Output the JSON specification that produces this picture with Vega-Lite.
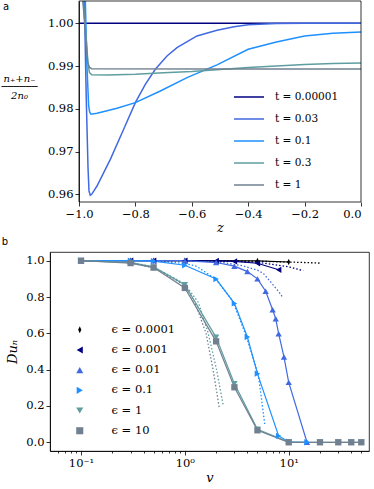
{
  "$schema": "https://vega.github.io/schema/vega-lite/v6.json",
  "padding": 0,
  "background": "white",
  "config": {
    "font": "DejaVu Serif",
    "view": {"stroke": "#000", "strokeWidth": 0.8},
    "axis": {"labelFont": "DejaVu Serif", "labelFontSize": 11.5, "labelColor": "#000", "tickColor": "#000", "domainColor": "#000", "grid": false, "tickSize": 4, "tickWidth": 0.8, "domainWidth": 0.8, "titleFont": "DejaVu Serif", "titleFontWeight": "normal", "titleColor": "#000", "labelPadding": 2},
    "legend": {"labelFont": "DejaVu Serif", "labelColor": "#000", "padding": 0},
    "title": {"font": "DejaVu Sans", "fontSize": 10, "fontWeight": "normal", "color": "#000"}
  },
  "datasets": {
    "a": [
      {"t": "t = 0.00001", "z": -1.0, "n": 1.0},
      {"t": "t = 0.00001", "z": -0.5, "n": 1.0},
      {"t": "t = 0.00001", "z": 0.0, "n": 1.0},
      {"t": "t = 0.03", "z": -1.0, "n": 1.08},
      {"t": "t = 0.03", "z": -0.981, "n": 1.0052},
      {"t": "t = 0.03", "z": -0.974, "n": 0.9818},
      {"t": "t = 0.03", "z": -0.968, "n": 0.9662},
      {"t": "t = 0.03", "z": -0.9645, "n": 0.9608},
      {"t": "t = 0.03", "z": -0.96, "n": 0.95976},
      {"t": "t = 0.03", "z": -0.955, "n": 0.96},
      {"t": "t = 0.03", "z": -0.9362, "n": 0.96194},
      {"t": "t = 0.03", "z": -0.8889, "n": 0.96818},
      {"t": "t = 0.03", "z": -0.8416, "n": 0.9752},
      {"t": "t = 0.03", "z": -0.8002, "n": 0.98143},
      {"t": "t = 0.03", "z": -0.7648, "n": 0.98572},
      {"t": "t = 0.03", "z": -0.7293, "n": 0.98923},
      {"t": "t = 0.03", "z": -0.6879, "n": 0.99235},
      {"t": "t = 0.03", "z": -0.6525, "n": 0.9943},
      {"t": "t = 0.03", "z": -0.5816, "n": 0.99703},
      {"t": "t = 0.03", "z": -0.5106, "n": 0.99836},
      {"t": "t = 0.03", "z": -0.45, "n": 0.9992},
      {"t": "t = 0.03", "z": -0.4, "n": 0.99965},
      {"t": "t = 0.03", "z": -0.3, "n": 0.99995},
      {"t": "t = 0.03", "z": -0.2, "n": 1.0},
      {"t": "t = 0.03", "z": 0.0, "n": 1.0},
      {"t": "t = 0.1", "z": -1.0, "n": 1.08},
      {"t": "t = 0.1", "z": -0.9775, "n": 1.0052},
      {"t": "t = 0.1", "z": -0.9716, "n": 0.98962},
      {"t": "t = 0.1", "z": -0.9657, "n": 0.98065},
      {"t": "t = 0.1", "z": -0.962, "n": 0.9792},
      {"t": "t = 0.1", "z": -0.9574, "n": 0.97871},
      {"t": "t = 0.1", "z": -0.9362, "n": 0.97895},
      {"t": "t = 0.1", "z": -0.8652, "n": 0.98012},
      {"t": "t = 0.1", "z": -0.8002, "n": 0.98143},
      {"t": "t = 0.1", "z": -0.7116, "n": 0.98416},
      {"t": "t = 0.1", "z": -0.617, "n": 0.98728},
      {"t": "t = 0.1", "z": -0.5106, "n": 0.99025},
      {"t": "t = 0.1", "z": -0.4, "n": 0.99391},
      {"t": "t = 0.1", "z": -0.3, "n": 0.99563},
      {"t": "t = 0.1", "z": -0.2, "n": 0.99703},
      {"t": "t = 0.1", "z": -0.1, "n": 0.99766},
      {"t": "t = 0.1", "z": 0.0, "n": 0.99796},
      {"t": "t = 0.3", "z": -1.0, "n": 1.08},
      {"t": "t = 0.3", "z": -0.985, "n": 1.0052},
      {"t": "t = 0.3", "z": -0.975, "n": 0.997},
      {"t": "t = 0.3", "z": -0.968, "n": 0.9905},
      {"t": "t = 0.3", "z": -0.963, "n": 0.9885},
      {"t": "t = 0.3", "z": -0.955, "n": 0.98795},
      {"t": "t = 0.3", "z": -0.9, "n": 0.9879},
      {"t": "t = 0.3", "z": -0.8, "n": 0.98805},
      {"t": "t = 0.3", "z": -0.7, "n": 0.9884},
      {"t": "t = 0.3", "z": -0.6, "n": 0.9887},
      {"t": "t = 0.3", "z": -0.5, "n": 0.9892},
      {"t": "t = 0.3", "z": -0.4, "n": 0.98965},
      {"t": "t = 0.3", "z": -0.3, "n": 0.99},
      {"t": "t = 0.3", "z": -0.2, "n": 0.99035},
      {"t": "t = 0.3", "z": -0.1, "n": 0.99058},
      {"t": "t = 0.3", "z": 0.0, "n": 0.99071},
      {"t": "t = 1", "z": -1.0, "n": 1.08},
      {"t": "t = 1", "z": -0.986, "n": 1.0052},
      {"t": "t = 1", "z": -0.976, "n": 0.9965},
      {"t": "t = 1", "z": -0.969, "n": 0.9908},
      {"t": "t = 1", "z": -0.963, "n": 0.9897},
      {"t": "t = 1", "z": -0.955, "n": 0.98938},
      {"t": "t = 1", "z": -0.5, "n": 0.9893},
      {"t": "t = 1", "z": 0.0, "n": 0.9893}
    ],
    "bs": [
      {"e": "ϵ = 0.0001", "v": 0.1, "d": 1.0},
      {"e": "ϵ = 0.0001", "v": 0.3, "d": 1.0},
      {"e": "ϵ = 0.0001", "v": 0.5, "d": 1.0},
      {"e": "ϵ = 0.0001", "v": 1, "d": 1.0},
      {"e": "ϵ = 0.0001", "v": 5, "d": 0.999},
      {"e": "ϵ = 0.0001", "v": 10, "d": 0.993},
      {"e": "ϵ = 0.001", "v": 0.1, "d": 1.0},
      {"e": "ϵ = 0.001", "v": 0.3, "d": 1.0},
      {"e": "ϵ = 0.001", "v": 0.5, "d": 1.0},
      {"e": "ϵ = 0.001", "v": 1, "d": 1.0},
      {"e": "ϵ = 0.001", "v": 2, "d": 0.999},
      {"e": "ϵ = 0.001", "v": 3, "d": 0.996},
      {"e": "ϵ = 0.001", "v": 5, "d": 0.986},
      {"e": "ϵ = 0.001", "v": 8, "d": 0.95},
      {"e": "ϵ = 0.01", "v": 0.1, "d": 1.0},
      {"e": "ϵ = 0.01", "v": 0.3, "d": 1.0},
      {"e": "ϵ = 0.01", "v": 0.5, "d": 1.0},
      {"e": "ϵ = 0.01", "v": 1, "d": 1.0},
      {"e": "ϵ = 0.01", "v": 2, "d": 0.99},
      {"e": "ϵ = 0.01", "v": 3, "d": 0.97},
      {"e": "ϵ = 0.01", "v": 4, "d": 0.94},
      {"e": "ϵ = 0.01", "v": 5, "d": 0.9},
      {"e": "ϵ = 0.01", "v": 6, "d": 0.832},
      {"e": "ϵ = 0.01", "v": 7, "d": 0.73},
      {"e": "ϵ = 0.01", "v": 7.5, "d": 0.68},
      {"e": "ϵ = 0.01", "v": 8, "d": 0.598},
      {"e": "ϵ = 0.01", "v": 9, "d": 0.47},
      {"e": "ϵ = 0.01", "v": 10, "d": 0.33},
      {"e": "ϵ = 0.01", "v": 15, "d": 0.0},
      {"e": "ϵ = 0.1", "v": 0.1, "d": 1.0},
      {"e": "ϵ = 0.1", "v": 0.3, "d": 1.0},
      {"e": "ϵ = 0.1", "v": 0.5, "d": 0.998},
      {"e": "ϵ = 0.1", "v": 1, "d": 0.975},
      {"e": "ϵ = 0.1", "v": 2, "d": 0.899},
      {"e": "ϵ = 0.1", "v": 3, "d": 0.765},
      {"e": "ϵ = 0.1", "v": 4, "d": 0.58},
      {"e": "ϵ = 0.1", "v": 5, "d": 0.378},
      {"e": "ϵ = 0.1", "v": 8, "d": 0.035},
      {"e": "ϵ = 0.1", "v": 10, "d": 0.003},
      {"e": "ϵ = 0.1", "v": 15, "d": 0.0},
      {"e": "ϵ = 1", "v": 0.1, "d": 1.0},
      {"e": "ϵ = 1", "v": 0.3, "d": 0.99},
      {"e": "ϵ = 1", "v": 0.5, "d": 0.966},
      {"e": "ϵ = 1", "v": 1, "d": 0.868},
      {"e": "ϵ = 1", "v": 2, "d": 0.578},
      {"e": "ϵ = 1", "v": 3, "d": 0.323},
      {"e": "ϵ = 1", "v": 5, "d": 0.072},
      {"e": "ϵ = 1", "v": 10, "d": 0.001},
      {"e": "ϵ = 1", "v": 20, "d": 0.0},
      {"e": "ϵ = 1", "v": 30, "d": 0.0},
      {"e": "ϵ = 1", "v": 40, "d": 0.0},
      {"e": "ϵ = 1", "v": 50, "d": 0.0},
      {"e": "ϵ = 10", "v": 0.1, "d": 1.0},
      {"e": "ϵ = 10", "v": 0.3, "d": 0.987},
      {"e": "ϵ = 10", "v": 0.5, "d": 0.962},
      {"e": "ϵ = 10", "v": 1, "d": 0.85},
      {"e": "ϵ = 10", "v": 2, "d": 0.556},
      {"e": "ϵ = 10", "v": 3, "d": 0.303},
      {"e": "ϵ = 10", "v": 5, "d": 0.066},
      {"e": "ϵ = 10", "v": 10, "d": 0.0},
      {"e": "ϵ = 10", "v": 20, "d": 0.0},
      {"e": "ϵ = 10", "v": 30, "d": 0.0},
      {"e": "ϵ = 10", "v": 40, "d": 0.0},
      {"e": "ϵ = 10", "v": 50, "d": 0.0}
    ],
    "bd": [
      {"e": "ϵ = 0.0001", "v": 0.5, "d": 1.0},
      {"e": "ϵ = 0.0001", "v": 1, "d": 1.0},
      {"e": "ϵ = 0.0001", "v": 2, "d": 0.9995},
      {"e": "ϵ = 0.0001", "v": 5, "d": 0.997},
      {"e": "ϵ = 0.0001", "v": 10, "d": 0.993},
      {"e": "ϵ = 0.0001", "v": 20, "d": 0.987},
      {"e": "ϵ = 0.001", "v": 1, "d": 1.0},
      {"e": "ϵ = 0.001", "v": 2, "d": 0.999},
      {"e": "ϵ = 0.001", "v": 3, "d": 0.997},
      {"e": "ϵ = 0.001", "v": 5, "d": 0.991},
      {"e": "ϵ = 0.001", "v": 8, "d": 0.975},
      {"e": "ϵ = 0.001", "v": 10, "d": 0.966},
      {"e": "ϵ = 0.001", "v": 13.8, "d": 0.945},
      {"e": "ϵ = 0.01", "v": 1, "d": 1.0},
      {"e": "ϵ = 0.01", "v": 2, "d": 0.996},
      {"e": "ϵ = 0.01", "v": 3.6, "d": 0.972},
      {"e": "ϵ = 0.01", "v": 5, "d": 0.948},
      {"e": "ϵ = 0.01", "v": 5.7, "d": 0.93},
      {"e": "ϵ = 0.01", "v": 7, "d": 0.87},
      {"e": "ϵ = 0.01", "v": 8, "d": 0.83},
      {"e": "ϵ = 0.01", "v": 8.7, "d": 0.8},
      {"e": "ϵ = 0.1", "v": 0.5, "d": 1.0},
      {"e": "ϵ = 0.1", "v": 1, "d": 0.985},
      {"e": "ϵ = 0.1", "v": 1.3, "d": 0.969},
      {"e": "ϵ = 0.1", "v": 2, "d": 0.897},
      {"e": "ϵ = 0.1", "v": 2.9, "d": 0.776},
      {"e": "ϵ = 0.1", "v": 3.9, "d": 0.584},
      {"e": "ϵ = 0.1", "v": 5.08, "d": 0.376},
      {"e": "ϵ = 0.1", "v": 5.46, "d": 0.244},
      {"e": "ϵ = 0.1", "v": 5.88, "d": 0.097},
      {"e": "ϵ = 1", "v": 0.3, "d": 0.99},
      {"e": "ϵ = 1", "v": 0.5, "d": 0.966},
      {"e": "ϵ = 1", "v": 1, "d": 0.872},
      {"e": "ϵ = 1", "v": 1.35, "d": 0.77},
      {"e": "ϵ = 1", "v": 1.68, "d": 0.6},
      {"e": "ϵ = 1", "v": 2.02, "d": 0.4},
      {"e": "ϵ = 1", "v": 2.34, "d": 0.204},
      {"e": "ϵ = 10", "v": 0.3, "d": 0.987},
      {"e": "ϵ = 10", "v": 0.5, "d": 0.962},
      {"e": "ϵ = 10", "v": 1, "d": 0.865},
      {"e": "ϵ = 10", "v": 1.25, "d": 0.77},
      {"e": "ϵ = 10", "v": 1.6, "d": 0.6},
      {"e": "ϵ = 10", "v": 1.87, "d": 0.4},
      {"e": "ϵ = 10", "v": 2.14, "d": 0.193}
    ]
  },
  "spacing": 1,
  "resolve": {"scale": {"color": "independent", "shape": "independent", "stroke": "independent"}, "legend": {"color": "independent"}},
  "vconcat": [
    {
      "width": 311,
      "height": 201,
      "view": {"stroke": null},
      "title": {"text": "a", "anchor": "start", "frame": "bounds", "offset": -11, "dx": 2},
      "layer": [
        {
          "data": {"name": "a"},
          "mark": {"type": "line", "strokeWidth": 1.5, "clip": true},
          "encoding": {
            "x": {"field": "z", "type": "quantitative", "scale": {"domain": [-1.1028, 0], "nice": false, "zero": false},
                  "axis": {"values": [-1, -0.8, -0.6, -0.4, -0.2, 0], "format": ".1f", "domain": false, "title": "z", "titleX": 170, "titleFontStyle": "italic", "titleFontSize": 13, "titlePadding": 2}},
            "y": {"field": "n", "type": "quantitative", "scale": {"domain": [0.9582, 1.0052], "nice": false, "zero": false},
                  "axis": {"values": [0.96, 0.97, 0.98, 0.99, 1.0], "format": ".2f", "offset": -29, "title": ["n₊+n₋", "──────", "2n₀"], "titleAngle": 0, "titleX": -60, "titleY": 77, "titleAlign": "center", "titleBaseline": "middle", "titleLineHeight": 8.5, "titleFontSize": 10, "titleFontStyle": "italic"}},
            "color": {"field": "t", "type": "nominal",
                      "scale": {"domain": ["t = 0.00001", "t = 0.03", "t = 0.1", "t = 0.3", "t = 1"], "range": ["#000080", "#4169e1", "#1e90ff", "#5f9ea0", "#708090"]},
                      "legend": {"title": null, "orient": "none", "legendX": 183, "legendY": 80, "symbolType": "stroke", "symbolSize": 900, "symbolStrokeWidth": 1.5, "labelFontSize": 10.5, "labelOffset": 10, "rowPadding": -1.7}}
          }
        },
        {
          "data": {"values": [{}]},
          "mark": {"type": "rect", "filled": false, "color": "#000", "strokeWidth": 0.8},
          "encoding": {
            "x": {"datum": -1, "type": "quantitative"},
            "x2": {"datum": 0},
            "y": {"datum": 0.9582, "type": "quantitative"},
            "y2": {"datum": 1.0052}
          }
        }
      ]
    },
    {
      "width": 319,
      "height": 199,
      "title": {"text": "b", "anchor": "start", "frame": "bounds", "offset": 5, "dx": -5},
      "encoding": {
        "x": {"field": "v", "type": "quantitative", "scale": {"type": "log", "domain": [0.0503, 59.3], "nice": false},
              "axis": {"values": [0.06, 0.07, 0.08, 0.09, 0.1, 0.2, 0.3, 0.4, 0.5, 0.6, 0.7, 0.8, 0.9, 1, 2, 3, 4, 5, 6, 7, 8, 9, 10, 20, 30, 40, 50],
                       "labelExpr": "datum.value == 0.1 ? '10⁻¹' : (datum.value == 1 ? '10⁰' : (datum.value == 10 ? '10¹' : ''))",
                       "tickSize": {"condition": {"test": "datum.value == 0.1 || datum.value == 1 || datum.value == 10", "value": 4}, "value": 2},
                       "labelOverlap": false, "labelBound": false,
                       "title": "v", "titleFontStyle": "italic", "titleFontSize": 13, "titlePadding": 3}},
        "y": {"field": "d", "type": "quantitative", "scale": {"domain": [-0.048, 1.048], "nice": false, "zero": false},
              "axis": {"values": [0, 0.2, 0.4, 0.6, 0.8, 1.0], "format": ".1f", "labelOverlap": false, "title": "Duₙ", "titleFontStyle": "italic", "titleFontSize": 13, "titlePadding": 6}}
      },
      "layer": [
        {
          "data": {"name": "bd"},
          "mark": {"type": "line", "strokeWidth": 1.3, "strokeDash": [1.5, 2], "clip": true},
          "encoding": {
            "stroke": {"field": "e", "type": "nominal", "legend": null,
                       "scale": {"domain": ["ϵ = 10", "ϵ = 1", "ϵ = 0.1", "ϵ = 0.01", "ϵ = 0.001", "ϵ = 0.0001"], "range": ["#708090", "#5f9ea0", "#1e90ff", "#4169e1", "#000080", "#000000"]}}
          }
        },
        {
          "data": {"name": "bs"},
          "mark": {"type": "line", "strokeWidth": 1.2, "clip": true},
          "encoding": {
            "stroke": {"field": "e", "type": "nominal", "legend": null,
                       "scale": {"domain": ["ϵ = 10", "ϵ = 1", "ϵ = 0.1", "ϵ = 0.01", "ϵ = 0.001", "ϵ = 0.0001"], "range": ["#708090", "#5f9ea0", "#1e90ff", "#4169e1", "#000080", "#000000"]}}
          }
        },
        {
          "data": {"name": "bs"},
          "mark": {"type": "point", "filled": true, "opacity": 1, "size": 40, "clip": true},
          "encoding": {
            "color": {"field": "e", "type": "nominal",
                      "scale": {"domain": ["ϵ = 0.0001", "ϵ = 0.001", "ϵ = 0.01", "ϵ = 0.1", "ϵ = 1", "ϵ = 10"], "range": ["#000000", "#000080", "#4169e1", "#1e90ff", "#5f9ea0", "#708090"]},
                      "legend": {"title": null, "orient": "none", "legendX": 24, "legendY": 72, "symbolSize": 50, "symbolOpacity": 1, "labelFontSize": 11.5, "labelOffset": 26, "rowPadding": 7.2}},
            "shape": {"field": "e", "type": "nominal", "legend": null,
                      "scale": {"domain": ["ϵ = 0.0001", "ϵ = 0.001", "ϵ = 0.01", "ϵ = 0.1", "ϵ = 1", "ϵ = 10"], "range": ["M0,-1L0.45,0L0,1L-0.45,0Z", "triangle-left", "triangle-up", "triangle-right", "triangle-down", "square"]}}
          }
        }
      ]
    }
  ]
}
